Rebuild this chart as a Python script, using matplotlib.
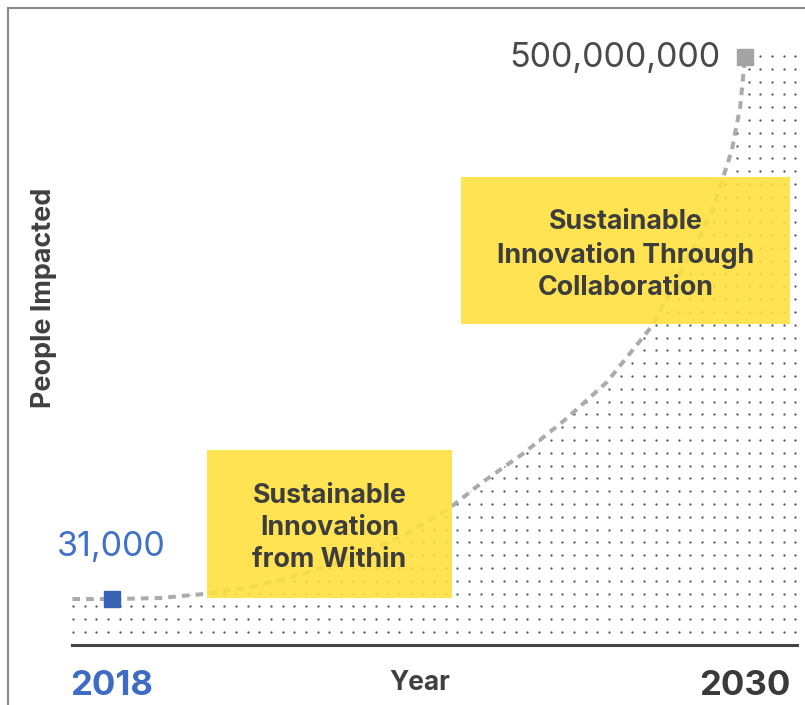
import numpy as np
import matplotlib.pyplot as plt
from matplotlib.patches import Rectangle
from matplotlib.path import Path
from matplotlib.lines import Line2D

plt.rcParams['font.family'] = ['Inter', 'DejaVu Sans']

# data
start_year, end_year = 2018, 2030
start_people, end_people = 31_000, 500_000_000
curve_years = [2017.25, 2018.0, 2018.9, 2019.73, 2020.62, 2021.56, 2022.51, 2023.46,
               2024.35, 2025.03, 2025.79, 2026.63, 2027.38, 2028.24, 2028.96,
               2029.37, 2029.58, 2029.75, 2029.91, 2030.0]
curve_people = [31_000, 31_000, 900_000, 4_600_000, 11_000_000, 22_000_000, 38_000_000,
                57_000_000, 82_000_000, 108_000_000, 134_000_000, 167_000_000,
                200_000_000, 252_000_000, 318_000_000, 357_000_000, 388_000_000,
                414_000_000, 454_000_000, 500_000_000]
phase_labels = ["Sustainable\nInnovation\nfrom Within",
                "Sustainable\nInnovation Through\nCollaboration"]

W, H = 805, 705
fig = plt.figure(figsize=(W / 100, H / 100), dpi=100)

def fx(px):
    return px / W

def fy(py):
    return 1 - py / H

ax = fig.add_axes([fx(72), fy(645), (797 - 72) / W, (645 - 20) / H])
ax.set_xlim(2017.242, 2030.986)
ax.set_ylim(-42.4e6, 534.1e6)
for s in ["left", "right", "top"]:
    ax.spines[s].set_visible(False)
ax.spines["bottom"].set_color("#444444")
ax.spines["bottom"].set_linewidth(2.2)
ax.set_xticks([])
ax.set_yticks([])

# dotted texture under the curve
cols = (73 + 11.65 * np.arange(63) - 72) / 725
rows = (645 - (632 - 12.8 * np.arange(46))) / 625
gx, gy = np.meshgrid(cols, rows)
dots = ax.scatter(gx.ravel(), gy.ravel(), s=2.6, color="#505050", linewidths=0,
                  transform=ax.transAxes, zorder=1)
xl, xr = ax.get_xlim()
yb = ax.get_ylim()[0]
verts = list(zip(curve_years, curve_people)) + [(xr, 510e6), (xr, yb), (xl, yb), (xl, curve_people[0])]
clip = Path(verts + [verts[0]], [Path.MOVETO] + [Path.LINETO] * (len(verts) - 1) + [Path.CLOSEPOLY])
dots.set_clip_path(clip, ax.transData)

# growth curve
ax.plot(curve_years, curve_people, color="#ababab", lw=2.9, ls=(0, (1.9, 1.5)),
        dash_capstyle="butt", zorder=3)
ax.plot([start_year], [start_people], marker="s", ms=12, color="#3761b2", zorder=6, clip_on=False)
ax.plot([end_year], [end_people], marker="s", ms=11.5, color="#a3a3a3", zorder=6, clip_on=False)

# phase boxes
box_pos = [(0.1862, 0.0752, 0.338, 0.2368), (0.5366, 0.5136, 0.4538, 0.2352)]
for (bx, by, bw, bh), lab in zip(box_pos, phase_labels):
    ax.add_patch(Rectangle((bx, by), bw, bh, transform=ax.transAxes,
                           facecolor="#ffe03a", edgecolor="none", alpha=0.88, zorder=4))
    ax.text(bx + bw / 2, by + bh / 2 - 0.007, lab, transform=ax.transAxes, ha="center", va="center",
            fontsize=19.3, fontweight="bold", color="#3d3d3d", linespacing=1.3, zorder=7)

# value labels
fig.text(fx(720), fy(67), f"{end_people:,}", ha="right", va="baseline",
         fontsize=24.5, color="#4a4a4a")
fig.text(fx(57), fy(556), f"{start_people:,}", ha="left", va="baseline",
         fontsize=24.5, color="#4070c8")

# axis labels
fig.text(fx(70), fy(695), str(start_year), ha="left", va="baseline",
         fontsize=25, fontweight="bold", color="#3e6cc4")
fig.text(fx(790), fy(695), str(end_year), ha="right", va="baseline",
         fontsize=25, fontweight="bold", color="#3a3a3a")
fig.text(fx(420), fy(690), "Year", ha="center", va="baseline",
         fontsize=19, fontweight="bold", color="#404040")
fig.text(fx(44), fy(298), "People Impacted", ha="center", va="center", rotation=90,
         fontsize=19.4, fontweight="bold", color="#404040")

# frame
fig.add_artist(Line2D([fx(8), fx(8)], [fy(8), 0], transform=fig.transFigure, color="#8a8a8a", lw=1.5))
fig.add_artist(Line2D([fx(8), 1], [fy(8), fy(8)], transform=fig.transFigure, color="#8a8a8a", lw=1.5))

fig.savefig("out.png", dpi=100)
